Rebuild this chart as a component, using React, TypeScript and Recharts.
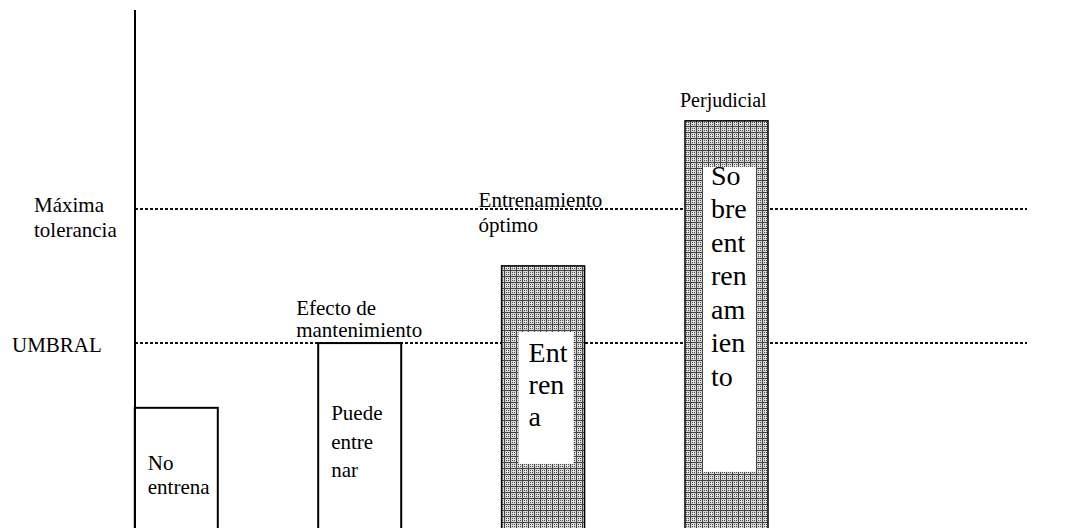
import React from "react"
import { Bar, BarChart, ReferenceLine, XAxis, YAxis } from "recharts"

// categories and bar heights (0-100 load scale)
const categories = ["No entrena", "Puede entrenar", "Entrena", "Sobreentrenamiento"]
const intensity = [23.2, 35.7, 50.6, 78.6]

// text written inside each bar, broken as in the original
const barText = [
  ["No", "entrena"],
  ["Puede", "entre", "nar"],
  ["Ent", "ren", "a"],
  ["So", "bre", "ent", "ren", "am", "ien", "to"],
]

// captions over each bar
const barCaptions = [[], ["Efecto de", "mantenimiento"], ["Entrenamiento", "óptimo"], ["Perjudicial"]]

// horizontal threshold lines
const thresholdNames = [["UMBRAL"], ["Máxima", "tolerancia"]]
const thresholdValues = [35.7, 61.6]

const serif = { fontFamily: '"Liberation Serif", "Times New Roman", Times, "DejaVu Serif", serif' }

const barStyles = [
  { patterned: false, textDx: 13, textDy: 62, lineH: 24, fontSize: 21, capDx: 0, capDy: 0, capLineH: 22, capFont: 21 },
  { patterned: false, textDx: 13, textDy: 77, lineH: 28.5, fontSize: 21, capDx: -22, capDy: -28, capLineH: 22, capFont: 21 },
  {
    patterned: true,
    box: { left: 17, right: 11, top: 66, h: 132 },
    textDx: 27,
    textDy: 96,
    lineH: 32,
    fontSize: 28,
    capDx: -23,
    capDy: -59,
    capLineH: 25,
    capFont: 21,
  },
  {
    patterned: true,
    box: { left: 18, right: 12, top: 46, h: 305 },
    textDx: 26,
    textDy: 64,
    lineH: 33.5,
    fontSize: 28,
    capDx: -5,
    capDy: -14,
    capLineH: 22,
    capFont: 20,
  },
]

const thresholdStyles = [
  { x: 12, dy: 9, lineH: 25 },
  { x: 34, dy: 3, lineH: 25 },
]

const data = categories.map((name, i) => ({ name, value: intensity[i] }))

const BarShape = (props: any) => {
  const { x, y, width, height, index } = props
  const s = barStyles[index]
  const lines = barText[index]
  const caps = barCaptions[index]
  return (
    <g>
      <rect
        x={x}
        y={y}
        width={width}
        height={height + 4}
        fill={s.patterned ? "url(#stipple)" : "#fff"}
        stroke="#000"
        strokeWidth={s.patterned ? 1.5 : 2}
      />
      {s.box && (
        <rect
          x={x + s.box.left}
          y={y + s.box.top}
          width={width - s.box.left - s.box.right}
          height={s.box.h}
          fill="#fff"
        />
      )}
      <text style={serif} fontSize={s.fontSize} fill="#000">
        {lines.map((t, i) => (
          <tspan key={i} x={x + s.textDx} y={y + s.textDy + i * s.lineH}>
            {t}
          </tspan>
        ))}
      </text>
      {caps.length > 0 && (
        <text style={serif} fontSize={s.capFont} fill="#000">
          {caps.map((t, i) => (
            <tspan key={i} x={x + s.capDx} y={y + s.capDy + i * s.capLineH}>
              {t}
            </tspan>
          ))}
        </text>
      )}
    </g>
  )
}

const ThresholdTick = (props: any) => {
  const { y, payload } = props
  const i = thresholdValues.indexOf(payload.value)
  if (i < 0) return null
  const s = thresholdStyles[i]
  return (
    <text style={serif} fontSize={21} fill="#000">
      {thresholdNames[i].map((t, k) => (
        <tspan key={k} x={s.x} y={y + s.dy + k * s.lineH}>
          {t}
        </tspan>
      ))}
    </text>
  )
}

export default function App() {
  return (
    <div style={{ position: "absolute", left: 0, top: 0, width: 1067, height: 528, overflow: "hidden", background: "#fff", ...serif }}>
      <BarChart width={1067} height={528} data={data} margin={{ top: 10, right: 40, left: 0, bottom: 0 }}>
        <defs>
          <pattern id="stipple" width="6" height="6" patternUnits="userSpaceOnUse">
            <rect width="6" height="6" fill="#d4d4d4" />
            <rect width="6" height="1" fill="#444" />
            <rect width="1" height="6" fill="#444" />
            <rect x="2" y="2" width="1" height="1" fill="#555" />
            <rect x="4" y="2" width="1" height="1" fill="#555" />
            <rect x="2" y="4" width="1" height="1" fill="#555" />
            <rect x="4" y="4" width="1" height="1" fill="#555" />
            <rect x="3" y="3" width="1" height="1" fill="#fff" />
          </pattern>
        </defs>
        <XAxis dataKey="name" hide padding={{ left: -50.2, right: 208.6 }} />
        <YAxis
          width={135}
          domain={[0, 100]}
          ticks={thresholdValues}
          tickLine={false}
          axisLine={{ stroke: "#000", strokeWidth: 2 }}
          tick={<ThresholdTick />}
        />
        {thresholdValues.map((v, i) => (
          <ReferenceLine key={i} y={v} stroke="#111" strokeWidth={2} strokeDasharray="3 2" zIndex={100} />
        ))}
        <Bar dataKey="value" barSize={83} shape={<BarShape />} isAnimationActive={false} zIndex={300} />
      </BarChart>
    </div>
  )
}
